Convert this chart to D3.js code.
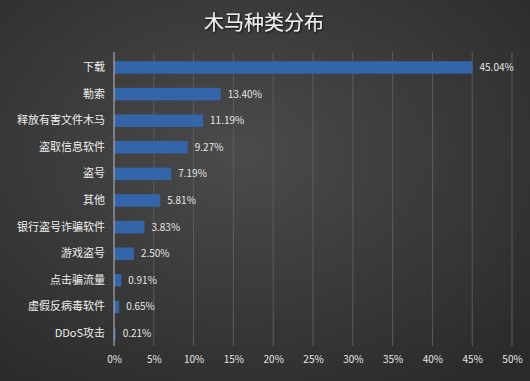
<!DOCTYPE html>
<html>
<head>
    <meta charset="utf-8" />
    <title>木马种类分布</title>
    <style type="text/css">
        * { margin: 0; padding: 0 }
        html, body { width: 530px; height: 381px; overflow: hidden; background: #3a3a3a; }
        svg { display: block; }
    </style>
</head>
<body>
    <svg id="chart" width="530" height="381"></svg>
    <script src="https://cdn.jsdelivr.net/npm/d3@7"></script>
    <script>
        const categories = ["下载", "勒索", "释放有害文件木马", "盗取信息软件", "盗号", "其他", "银行盗号诈骗软件", "游戏盗号", "点击骗流量", "虚假反病毒软件", "DDoS攻击"];
        const values = [45.04, 13.40, 11.19, 9.27, 7.19, 5.81, 3.83, 2.50, 0.91, 0.65, 0.21];
        const xTicks = [0, 5, 10, 15, 20, 25, 30, 35, 40, 45, 50];

        const svg = d3.select("#chart");
        const W = 530, H = 381;
        const font = "'Microsoft YaHei', 'Noto Sans CJK SC', sans-serif";

        // 背景渐变
        const defs = svg.append("defs");
        const grad = defs.append("radialGradient").attr("id", "bg")
            .attr("cx", "45%").attr("cy", "40%").attr("r", "75%");
        grad.append("stop").attr("offset", "0%").attr("stop-color", "#4b4b4b");
        grad.append("stop").attr("offset", "100%").attr("stop-color", "#2a2a2a");
        const shadow = defs.append("filter").attr("id", "ts");
        shadow.append("feDropShadow").attr("dx", 1).attr("dy", 1).attr("stdDeviation", 1)
            .attr("flood-color", "#000").attr("flood-opacity", 0.8);

        svg.append("rect").attr("width", W).attr("height", H).attr("fill", "url(#bg)");

        svg.append("text")
            .attr("x", 264).attr("y", 30)
            .attr("text-anchor", "middle")
            .attr("font-family", font).attr("font-size", 20)
            .attr("fill", "#f0f0f0").attr("filter", "url(#ts)")
            .text("木马种类分布");

        const margin = { top: 54, left: 114, right: 18, bottom: 36 };
        const x = d3.scaleLinear().domain([0, 50]).range([margin.left, W - margin.right]);
        const y = d3.scaleBand().domain(categories).range([54, 347]).paddingInner(0.53).paddingOuter(0.27);

        // 网格线
        svg.append("g").selectAll("line").data(xTicks.slice(1)).join("line")
            .attr("x1", d => x(d)).attr("x2", d => x(d))
            .attr("y1", 52).attr("y2", 346)
            .attr("stroke", "#5c5c5c").attr("stroke-width", 1);

        // 条形
        svg.append("g").selectAll("rect").data(values).join("rect")
            .attr("x", x(0))
            .attr("y", (d, i) => y(categories[i]))
            .attr("width", d => x(d) - x(0))
            .attr("height", y.bandwidth())
            .attr("fill", "#3465a8");

        // 纵轴线
        svg.append("line")
            .attr("x1", x(0)).attr("x2", x(0)).attr("y1", 52).attr("y2", 346)
            .attr("stroke", "#bdbdbd").attr("stroke-width", 1);

        // 数值标签
        svg.append("g").selectAll("text").data(values).join("text")
            .attr("x", d => x(d) + 7)
            .attr("y", (d, i) => y(categories[i]) + y.bandwidth() / 2)
            .attr("dy", "0.35em")
            .attr("font-family", font).attr("font-size", 10)
            .attr("fill", "#e6e6e6")
            .text(d => d.toFixed(2) + "%");

        // 分类轴
        const yAxis = d3.axisLeft(y).tickSize(0).tickPadding(9);
        const gy = svg.append("g").attr("transform", `translate(${x(0)},0)`).call(yAxis);
        gy.select(".domain").remove();
        gy.selectAll("text").attr("font-family", font).attr("font-size", 11).attr("fill", "#eeeeee");

        // 数值轴
        const xAxis = d3.axisBottom(x).tickValues(xTicks).tickSize(0).tickPadding(0).tickFormat(d => d + "%");
        const gx = svg.append("g").attr("transform", "translate(0,359)").call(xAxis);
        gx.select(".domain").remove();
        gx.selectAll("text").attr("font-family", font).attr("font-size", 10).attr("fill", "#e6e6e6").attr("dy", "0.35em");
    </script>
</body>
</html>
